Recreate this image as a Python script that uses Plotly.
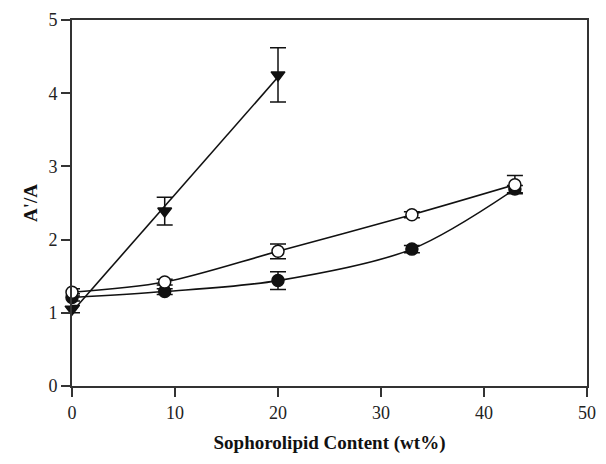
import numpy as np
import plotly.graph_objects as go

# Data
x_tri = [0, 9, 20]
y_tri = [1.05, 2.39, 4.25]
e_tri = [0.05, 0.19, 0.37]

x_open = [0, 9, 20, 33, 43]
y_open = [1.28, 1.42, 1.84, 2.34, 2.75]
e_open = [0.05, 0.04, 0.10, 0.04, 0.125]

x_fill = [0, 9, 20, 33, 43]
y_fill = [1.21, 1.29, 1.44, 1.87, 2.69]
e_fill = [0.05, 0.04, 0.12, 0.05, 0.05]

x_ticks = [0, 10, 20, 30, 40, 50]
y_ticks = [0, 1, 2, 3, 4, 5]

FONT = "Liberation Serif"
INK = "#111111"
AX = "#333333"

fig = go.Figure()

# triangle series: straight fitted line
c = np.polyfit(x_tri, y_tri, 1)
xx = np.linspace(min(x_tri) + 0.5, max(x_tri), 50)
fig.add_trace(go.Scatter(x=xx, y=np.polyval(c, xx), mode="lines",
                         line=dict(color=INK, width=1.6),
                         hoverinfo="skip", showlegend=False, cliponaxis=False))

# circle series: smooth curves through the points
for xs, ys in [(x_fill, y_fill), (x_open, y_open)]:
    fig.add_trace(go.Scatter(x=xs, y=ys, mode="lines",
                             line=dict(color=INK, width=1.6, shape="spline", smoothing=0.9),
                             hoverinfo="skip", showlegend=False, cliponaxis=False))

def add_pts(xs, ys, es, symbol, fill):
    fig.add_trace(go.Scatter(
        x=xs, y=ys, mode="markers", showlegend=False, cliponaxis=False,
        marker=dict(symbol=symbol, size=12, color=fill,
                    line=dict(color=INK, width=1.5)),
        error_y=dict(type="data", array=es, visible=True,
                     color=INK, thickness=1.5, width=8)))

add_pts(x_fill, y_fill, e_fill, "circle", INK)
add_pts(x_open, y_open, e_open, "circle", "white")
add_pts(x_tri, y_tri, e_tri, "triangle-down", INK)

axis_common = dict(showline=True, linecolor=AX, linewidth=2, mirror=True,
                   ticks="outside", ticklen=9, tickwidth=2, tickcolor=AX,
                   showgrid=False, zeroline=False,
                   tickfont=dict(family=FONT, size=18, color="#222222"))

fig.update_xaxes(range=[0, 50], tickvals=x_ticks,
                 title=dict(text="<b>Sophorolipid Content (wt%)</b>",
                            font=dict(family=FONT, size=19, color="#111111"),
                            standoff=14),
                 **axis_common)
fig.update_yaxes(range=[0, 5], tickvals=y_ticks,
                 title=dict(text="<b>A'/A</b>",
                            font=dict(family=FONT, size=19, color="#111111"),
                            standoff=6),
                 **axis_common)

fig.update_layout(width=606, height=464,
                  margin=dict(l=72, r=10, t=20, b=78),
                  plot_bgcolor="white", paper_bgcolor="white")

fig.write_html("out.html")
